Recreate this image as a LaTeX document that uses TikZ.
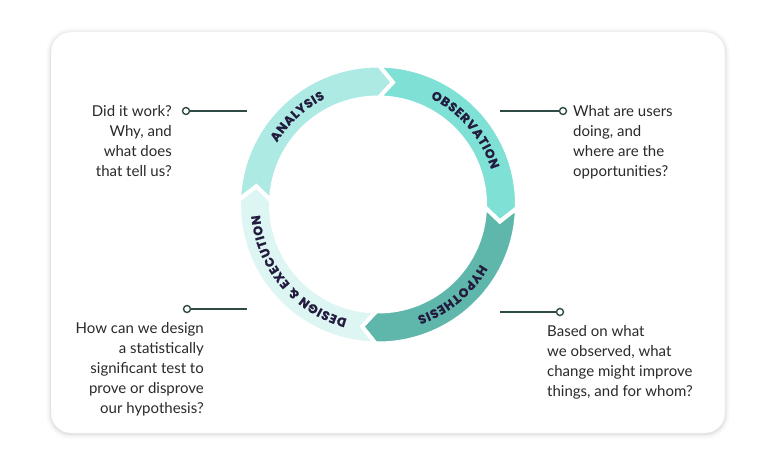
\documentclass[tikz,border=0pt]{standalone}
\usepackage{fontspec}
\setmainfont{Lato}
\newfontfamily\labelfont{Poppins}[FakeBold=0.8]
\usetikzlibrary{decorations.text}
\definecolor{cAna}{HTML}{ADEAE4}
\definecolor{cObs}{HTML}{7FE0D6}
\definecolor{cHyp}{HTML}{5FB7AC}
\definecolor{cDes}{HTML}{DDF5F3}
\definecolor{lbl}{HTML}{231C3F}
\definecolor{conn}{HTML}{2F4B45}
\definecolor{bodytext}{HTML}{2A2A2A}
\newcommand\ringseg[3]{%
  \filldraw[seg, fill=#1] (#2:139) arc[start angle=#2, end angle=#3, radius=139]
    -- ({#3-6.5}:123) -- (#3:107) arc[start angle=#3, end angle=#2, radius=107]
    -- ({#2-6.5}:123) -- cycle;}
\begin{document}
\begin{tikzpicture}[x=1pt,y=1pt,
  seg/.style={draw=white, line width=4pt, line join=miter},
  dot/.style={circle, draw=conn, line width=1.4pt, fill=white, minimum size=7pt, inner sep=0pt},
  conline/.style={draw=conn, line width=1.8pt},
  lab/.style={decorate, decoration={text along path, text align=center,
    text color=lbl, text={#1}}},
  q/.style={font=\fontsize{15}{20}\selectfont, text=bodytext, inner sep=0pt}]
\useasboundingbox (0,0) rectangle (768,464);
\fill[white] (0,0) rectangle (768,464);
% card shadow
\foreach \w/\o in {10/0.015,7/0.02,4/0.03,2/0.04}{
  \draw[black, opacity=\o, line width=\w pt, rounded corners=20pt] (51,30) rectangle (725,431);}
\node[draw=gray!12, fill=white, rounded corners=20pt, minimum width=674pt,
  minimum height=401pt, inner sep=0pt] (card) at (388,231.5) {};
% ring
\begin{scope}[shift={(378,259.5)}]
  \ringseg{cAna}{178}{89.5}
  \ringseg{cObs}{89.5}{-1.5}
  \ringseg{cHyp}{-1.5}{-91}
  \ringseg{cDes}{-91}{-182}
  \labelfont\bfseries\fontsize{12.5}{12.5}\selectfont
  \path[lab={A{\kern.7pt}N{\kern.7pt}A{\kern.7pt}L{\kern.7pt}Y{\kern.7pt}S{\kern.7pt}I{\kern.7pt}S}]
    (177.5:118.5) arc[start angle=177.5, end angle=87.5, radius=118.5];
  \path[lab={O{\kern.7pt}B{\kern.7pt}S{\kern.7pt}E{\kern.7pt}R{\kern.7pt}V{\kern.7pt}A{\kern.7pt}T{\kern.7pt}I{\kern.7pt}O{\kern.7pt}N}]
    (85.5:118.5) arc[start angle=85.5, end angle=-4.5, radius=118.5];
  \path[lab={H{\kern.7pt}Y{\kern.7pt}P{\kern.7pt}O{\kern.7pt}T{\kern.7pt}H{\kern.7pt}E{\kern.7pt}S{\kern.7pt}I{\kern.7pt}S}]
    (-5.5:118.5) arc[start angle=-5.5, end angle=-95.5, radius=118.5];
  \path[lab={D{\kern.7pt}E{\kern.7pt}S{\kern.7pt}I{\kern.7pt}G{\kern.7pt}N{\kern4pt}{\&}{\kern4pt}E{\kern.7pt}X{\kern.7pt}E{\kern.7pt}C{\kern.7pt}U{\kern.7pt}T{\kern.7pt}I{\kern.7pt}O{\kern.7pt}N}]
    (-95:118.5) arc[start angle=-95, end angle=-185, radius=118.5];
\end{scope}
% connectors
\node[dot] (d1) at (186,353) {};
\coordinate (e1) at (247,353);
\draw[conline] (d1) -- (e1);
\node[dot] (d2) at (563,353) {};
\coordinate (e2) at (500,353);
\draw[conline] (e2) -- (d2);
\node[dot] (d3) at (187,155) {};
\coordinate (e3) at (247,155);
\draw[conline] (d3) -- (e3);
\node[dot] (d4) at (560,152) {};
\coordinate (e4) at (500,152);
\draw[conline] (e4) -- (d4);
% texts
\node[q, anchor=north east, align=right] (t1) at (172,359)
  {Did it work?\\Why, and\\what does\\that tell us?};
\node[q, anchor=north west, align=left] (t2) at (573,359)
  {What are users\\doing, and\\where are the\\opportunities?};
\node[q, anchor=north east, align=right] (t3) at (204,142)
  {How can we design\\a statistically\\significant test to\\prove or disprove\\our hypothesis?};
\node[q, anchor=north west, align=left] (t4) at (547,139)
  {Based on what\\we observed, what\\change might improve\\things, and for whom?};
\end{tikzpicture}
\end{document}
